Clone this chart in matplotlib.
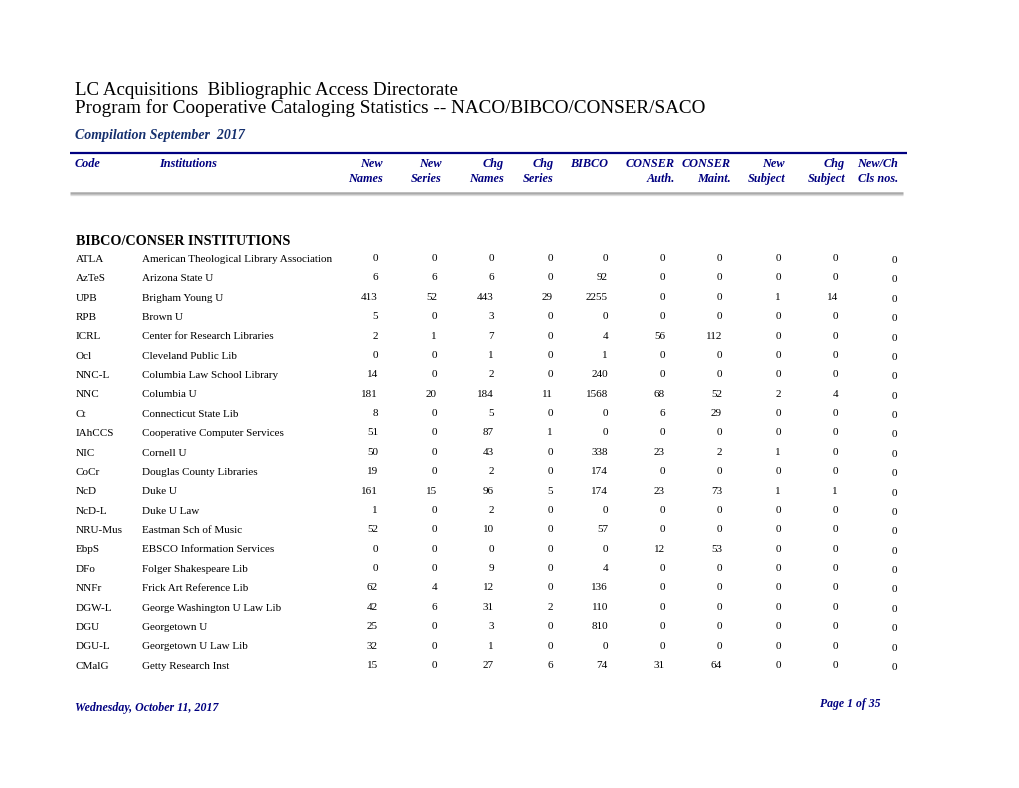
import matplotlib
matplotlib.use("Agg")
import matplotlib.pyplot as plt

## table data
codes = ["ATLA", "AzTeS", "UPB", "RPB", "ICRL", "Ocl", "NNC-L", "NNC", "Ct", "IAhCCS", "NIC",
         "CoCr", "NcD", "NcD-L", "NRU-Mus", "EbpS", "DFo", "NNFr", "DGW-L", "DGU", "DGU-L", "CMalG"]
institutions = ["American Theological Library Association", "Arizona State U", "Brigham Young U",
                "Brown U", "Center for Research Libraries", "Cleveland Public Lib",
                "Columbia Law School Library", "Columbia U", "Connecticut State Lib",
                "Cooperative Computer Services", "Cornell U", "Douglas County Libraries", "Duke U",
                "Duke U Law", "Eastman Sch of Music", "EBSCO Information Services",
                "Folger Shakespeare Lib", "Frick Art Reference Lib", "George Washington U Law Lib",
                "Georgetown U", "Georgetown U Law Lib", "Getty Research Inst"]
new_names = [0, 6, 413, 5, 2, 0, 14, 181, 8, 51, 50, 19, 161, 1, 52, 0, 0, 62, 42, 25, 32, 15]
new_series = [0, 6, 52, 0, 1, 0, 0, 20, 0, 0, 0, 0, 15, 0, 0, 0, 0, 4, 6, 0, 0, 0]
chg_names = [0, 6, 443, 3, 7, 1, 2, 184, 5, 87, 43, 2, 96, 2, 10, 0, 9, 12, 31, 3, 1, 27]
chg_series = [0, 0, 29, 0, 0, 0, 0, 11, 0, 1, 0, 0, 5, 0, 0, 0, 0, 0, 2, 0, 0, 6]
bibco = [0, 92, 2255, 0, 4, 1, 240, 1568, 0, 0, 338, 174, 174, 0, 57, 0, 4, 136, 110, 810, 0, 74]
conser_auth = [0, 0, 0, 0, 56, 0, 0, 68, 6, 0, 23, 0, 23, 0, 0, 12, 0, 0, 0, 0, 0, 31]
conser_maint = [0, 0, 0, 0, 112, 0, 0, 52, 29, 0, 2, 0, 73, 0, 0, 53, 0, 0, 0, 0, 0, 64]
new_subject = [0, 0, 1, 0, 0, 0, 0, 2, 0, 0, 1, 0, 1, 0, 0, 0, 0, 0, 0, 0, 0, 0]
chg_subject = [0, 0, 14, 0, 0, 0, 0, 4, 0, 0, 0, 0, 1, 0, 0, 0, 0, 0, 0, 0, 0, 0]
new_ch_cls = [0, 0, 0, 0, 0, 0, 0, 0, 0, 0, 0, 0, 0, 0, 0, 0, 0, 0, 0, 0, 0, 0]
headers = [("New", "Names"), ("New", "Series"), ("Chg", "Names"), ("Chg", "Series"), ("BIBCO", ""),
           ("CONSER", "Auth."), ("CONSER", "Maint."), ("New", "Subject"), ("Chg", "Subject"),
           ("New/Ch", "Cls nos.")]
columns = [new_names, new_series, chg_names, chg_series, bibco, conser_auth, conser_maint,
           new_subject, chg_subject, new_ch_cls]

## layout (page pixels)
col_right = [378, 437, 494, 553, 608, 665, 722, 781, 838, 897]
head_right = [383, 442, 504, 554, 608, 675, 731, 785, 845, 898]
row0 = 261
row_step = 19.38
navy = "#000080"
serif = "Liberation Serif"

fig = plt.figure(figsize=(10.2, 7.88), dpi=100)
ax = fig.add_axes([0, 0, 1, 1])
ax.set_xlim(0, 1020)
ax.set_ylim(788, 0)
ax.axis("off")

## titles
ax.text(75, 94.5, "LC Acquisitions  Bibliographic Access Directorate", family=serif, fontsize=13.6,
        va="baseline", color="black")
ax.text(75, 112.5, "Program for Cooperative Cataloging Statistics -- NACO/BIBCO/CONSER/SACO",
        family=serif, fontsize=13.75, va="baseline", color="black")
ax.text(75, 139, "Compilation September  2017", family=serif, fontsize=10, weight="bold",
        style="italic", va="baseline", color="#15306e")

## header block
ax.plot([70, 907], [152.5, 152.5], color=navy, lw=1.6, solid_capstyle="butt")
ax.plot([70, 903], [193, 193], color="#a9a9a9", lw=1.8, solid_capstyle="butt")
ax.plot([70, 903], [194.8, 194.8], color="#dcdcdc", lw=0.9, solid_capstyle="butt")
hkw = dict(family=serif, fontsize=8.8, weight="bold", style="italic", color=navy, va="baseline")
ax.text(75, 167, "Code", **hkw)
ax.text(159, 167, "Institutions", **hkw)
for (h1, h2), xr in zip(headers, head_right):
    ax.text(xr, 167, h1, ha="right", **hkw)
    if h2:
        ax.text(xr, 181.5, h2, ha="right", **hkw)

## section + rows
ax.text(76, 244.5, "BIBCO/CONSER INSTITUTIONS", family=serif, fontsize=10.2, weight="bold",
        va="baseline", color="black")
for i, (code, inst) in enumerate(zip(codes, institutions)):
    y = row0 + i * row_step
    ax.text(76, y + 0.8, code, family=serif, fontsize=8.0, va="baseline")
    ax.text(142, y + 0.8, inst, family=serif, fontsize=8.0, va="baseline")
    for j, (vals, xr) in enumerate(zip(columns, col_right)):
        dy = 2 if j == len(columns) - 1 else 0
        ax.text(xr, y + dy, str(vals[i]), family=serif, fontsize=8.0, ha="right", va="baseline")

## footer
ax.text(75, 711, "Wednesday, October 11, 2017", family=serif, fontsize=8.6, weight="bold",
        style="italic", va="baseline", color=navy)
ax.text(881, 707, "Page 1 of 35", family=serif, fontsize=8.5, weight="bold", style="italic",
        ha="right", va="baseline", color=navy)

fig.savefig("out.png", dpi=100)
